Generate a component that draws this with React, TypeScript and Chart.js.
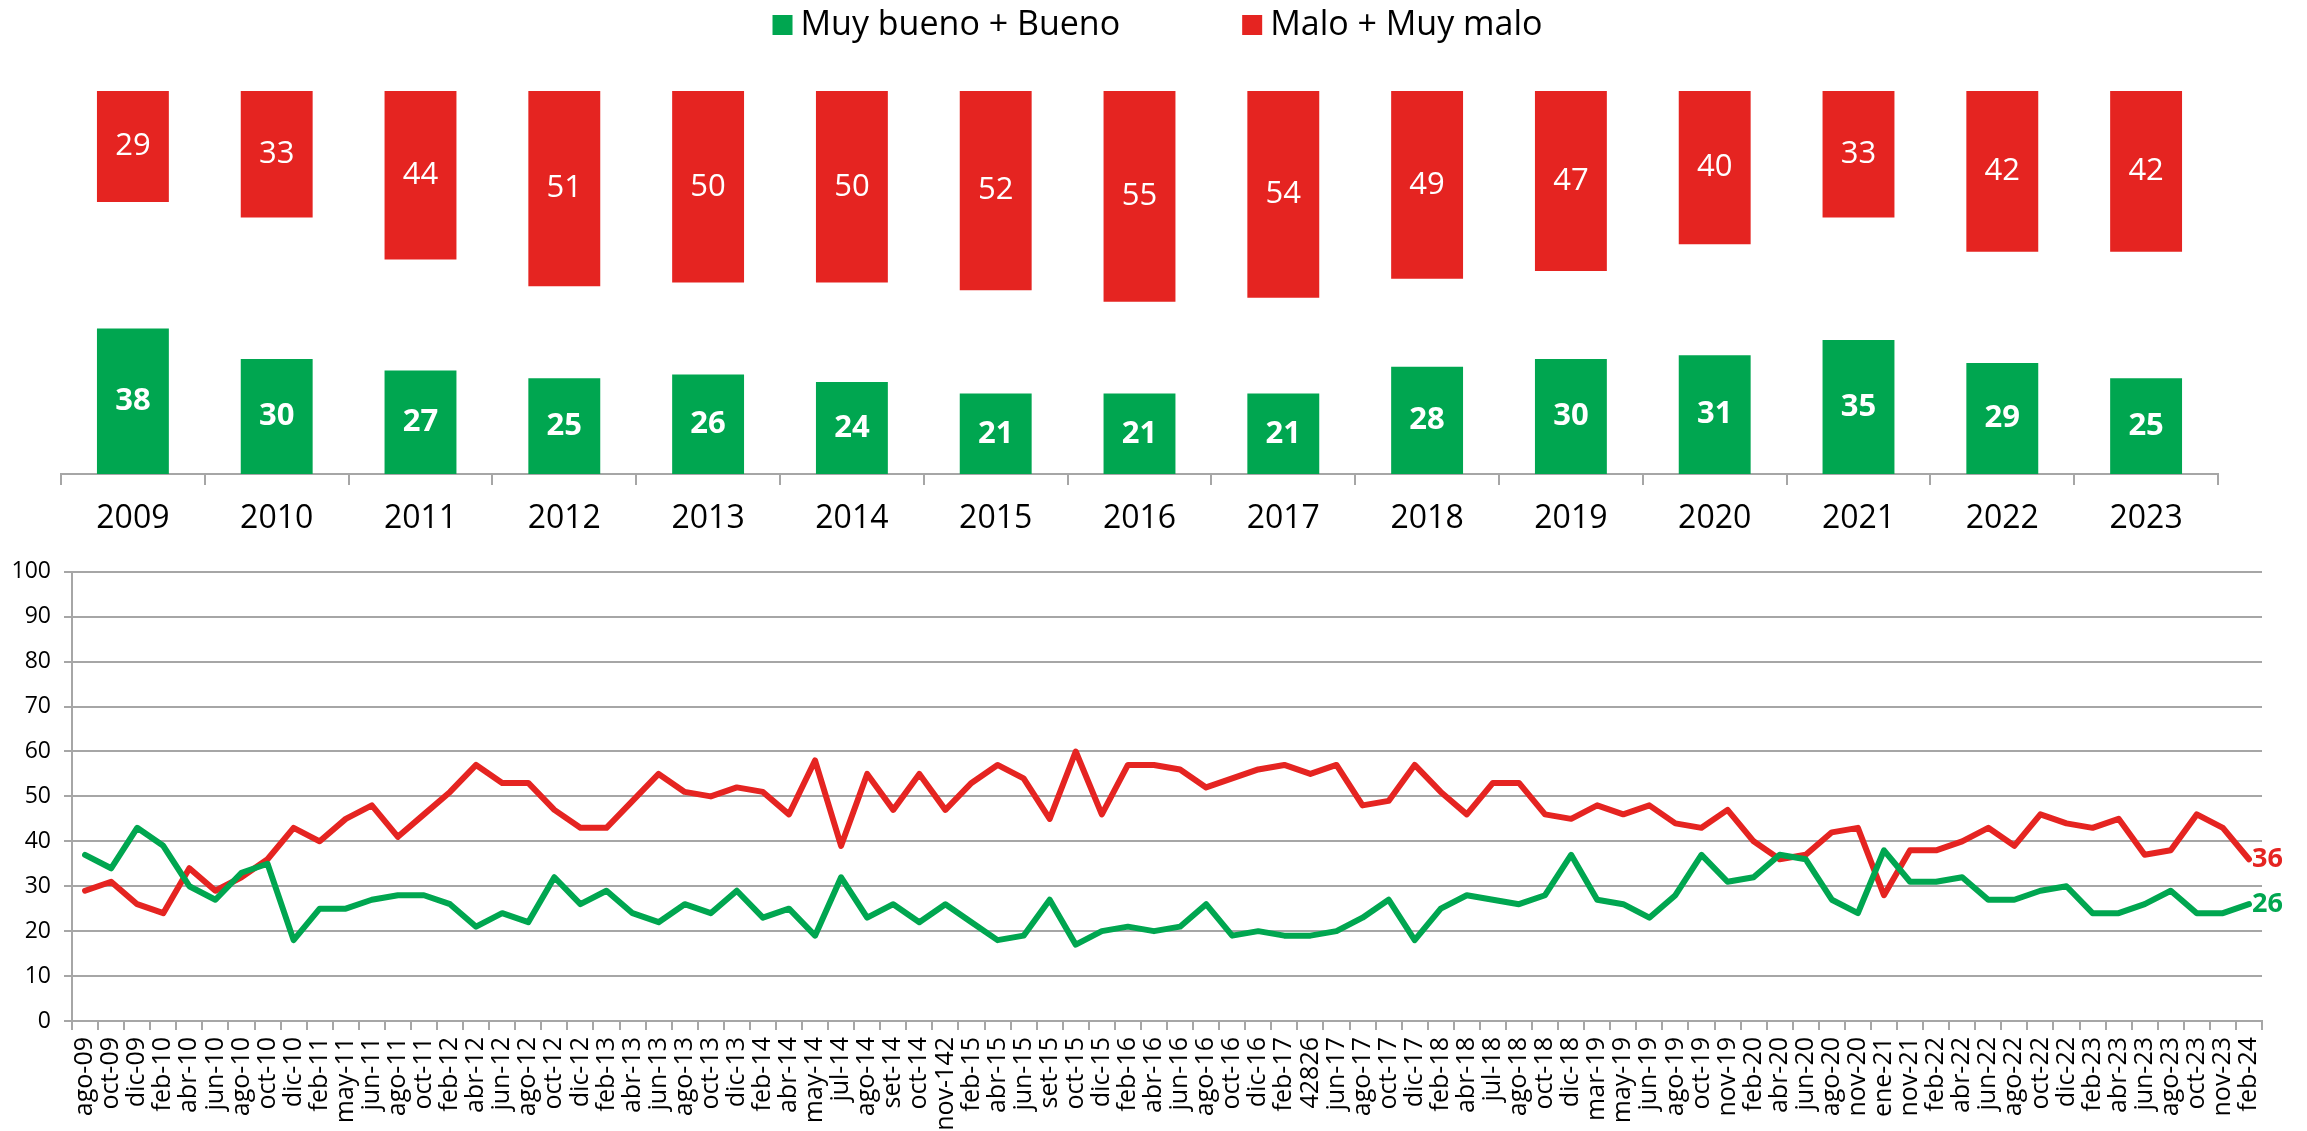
import React, { useEffect, useRef } from 'react';
import { Chart, registerables } from 'chart.js';

Chart.register(...registerables);

// ---------- Data ----------
const GOOD_LABEL = 'Muy bueno + Bueno';
const BAD_LABEL = 'Malo + Muy malo';

const YEARS = ['2009', '2010', '2011', '2012', '2013', '2014', '2015', '2016', '2017', '2018', '2019', '2020', '2021', '2022', '2023'];
const YEAR_GOOD = [38, 30, 27, 25, 26, 24, 21, 21, 21, 28, 30, 31, 35, 29, 25];
const YEAR_BAD = [29, 33, 44, 51, 50, 50, 52, 55, 54, 49, 47, 40, 33, 42, 42];

const MONTHS = [
  'ago-09', 'oct-09', 'dic-09', 'feb-10', 'abr-10', 'jun-10', 'ago-10', 'oct-10', 'dic-10', 'feb-11',
  'may-11', 'jun-11', 'ago-11', 'oct-11', 'feb-12', 'abr-12', 'jun-12', 'ago-12', 'oct-12', 'dic-12',
  'feb-13', 'abr-13', 'jun-13', 'ago-13', 'oct-13', 'dic-13', 'feb-14', 'abr-14', 'may-14', 'jul-14',
  'ago-14', 'set-14', 'oct-14', 'nov-142', 'feb-15', 'abr-15', 'jun-15', 'set-15', 'oct-15', 'dic-15',
  'feb-16', 'abr-16', 'jun-16', 'ago-16', 'oct-16', 'dic-16', 'feb-17', '42826', 'jun-17', 'ago-17',
  'oct-17', 'dic-17', 'feb-18', 'abr-18', 'jul-18', 'ago-18', 'oct-18', 'dic-18', 'mar-19', 'may-19',
  'jun-19', 'ago-19', 'oct-19', 'nov-19', 'feb-20', 'abr-20', 'jun-20', 'ago-20', 'nov-20', 'ene-21',
  'nov-21', 'feb-22', 'abr-22', 'jun-22', 'ago-22', 'oct-22', 'dic-22', 'feb-23', 'abr-23', 'jun-23',
  'ago-23', 'oct-23', 'nov-23', 'feb-24',
];
const MONTH_GOOD = [
  37, 34, 43, 39, 30, 27, 33, 35, 18, 25,
  25, 27, 28, 28, 26, 21, 24, 22, 32, 26,
  29, 24, 22, 26, 24, 29, 23, 25, 19, 32,
  23, 26, 22, 26, 22, 18, 19, 27, 17, 20,
  21, 20, 21, 26, 19, 20, 19, 19, 20, 23,
  27, 18, 25, 28, 27, 26, 28, 37, 27, 26,
  23, 28, 37, 31, 32, 37, 36, 27, 24, 38,
  31, 31, 32, 27, 27, 29, 30, 24, 24, 26,
  29, 24, 24, 26,
];
const MONTH_BAD = [
  29, 31, 26, 24, 34, 29, 32, 36, 43, 40,
  45, 48, 41, 46, 51, 57, 53, 53, 47, 43,
  43, 49, 55, 51, 50, 52, 51, 46, 58, 39,
  55, 47, 55, 47, 53, 57, 54, 45, 60, 46,
  57, 57, 56, 52, 54, 56, 57, 55, 57, 48,
  49, 57, 51, 46, 53, 53, 46, 45, 48, 46,
  48, 44, 43, 47, 40, 36, 37, 42, 43, 28,
  38, 38, 40, 43, 39, 46, 44, 43, 45, 37,
  38, 46, 43, 36,
];

// ---------- Styles ----------
const GREEN = '#00a650';
const RED = '#e52421';
const GRID = '#a6a6a6';
const FONT = "'Open Sans', 'Noto Sans', sans-serif";

const W = 2307;
const TOP_H = 545;
const BOT_H = 586;

const topLegendPlugin = {
  id: 'topLegend',
  afterDraw(chart: any) {
    const ctx = chart.ctx;
    ctx.save();
    ctx.font = `34px ${FONT}`;
    const items = chart.data.datasets.map((d: any) => ({ t: d.label, c: d.backgroundColor }));
    const box = 20;
    const gapText = 8;
    const gapItem = 122;
    const widths = items.map((it: any) => box + gapText + ctx.measureText(it.t).width);
    const total = widths.reduce((a: number, b: number) => a + b, 0) + gapItem * (items.length - 1);
    let x = chart.width / 2 - total / 2 + 4;
    const cy = 25;
    items.forEach((it: any, k: number) => {
      ctx.fillStyle = it.c;
      ctx.fillRect(x, cy - box / 2, box, box);
      ctx.fillStyle = '#000';
      ctx.textAlign = 'left';
      ctx.textBaseline = 'middle';
      ctx.fillText(it.t, x + box + gapText, cy);
      x += widths[k] + gapItem;
    });
    ctx.restore();
  },
};

const barLabelPlugin = {
  id: 'barLabels',
  afterDatasetsDraw(chart: any) {
    const ctx = chart.ctx;
    chart.data.datasets.forEach((ds: any, di: number) => {
      const meta = chart.getDatasetMeta(di);
      meta.data.forEach((el: any, i: number) => {
        const raw = ds.data[i];
        const v = Array.isArray(raw) ? raw[1] - raw[0] : raw;
        const { x, y, base } = el.getProps(['x', 'y', 'base'], true);
        ctx.save();
        ctx.fillStyle = '#ffffff';
        ctx.font = `${di === 0 ? 'bold ' : ''}31px ${FONT}`;
        ctx.textAlign = 'center';
        ctx.textBaseline = 'middle';
        ctx.fillText(String(v), x, (y + base) / 2);
        ctx.restore();
      });
    });
  },
};

const endLabelPlugin = {
  id: 'endLabels',
  afterDatasetsDraw(chart: any) {
    const ctx = chart.ctx;
    chart.data.datasets.forEach((ds: any, di: number) => {
      const meta = chart.getDatasetMeta(di);
      const last = meta.data[meta.data.length - 1];
      const v = ds.data[ds.data.length - 1];
      ctx.save();
      ctx.fillStyle = ds.borderColor;
      ctx.font = `bold 27px ${FONT}`;
      ctx.textAlign = 'left';
      ctx.textBaseline = 'middle';
      ctx.fillText(String(v), last.x + 3, last.y);
      ctx.restore();
    });
  },
};

function TopChart() {
  const ref = useRef<HTMLCanvasElement | null>(null);
  useEffect(() => {
    if (!ref.current) return;
    const chart = new Chart(ref.current, {
      type: 'bar',
      data: {
        labels: YEARS,
        datasets: [
          {
            label: GOOD_LABEL,
            data: YEAR_GOOD,
            backgroundColor: GREEN,
            grouped: false,
            barPercentage: 0.5,
            categoryPercentage: 1,
          } as any,
          {
            label: BAD_LABEL,
            data: YEAR_BAD.map((v) => [100 - v, 100]),
            backgroundColor: RED,
            grouped: false,
            barPercentage: 0.5,
            categoryPercentage: 1,
          } as any,
        ],
      },
      options: {
        responsive: false,
        animation: false,
        devicePixelRatio: 1,
        layout: { padding: { left: 61, right: 89, top: 91, bottom: 0 } },
        plugins: { legend: { display: false }, tooltip: { enabled: false } },
        scales: {
          x: {
            grid: { drawOnChartArea: false, drawTicks: true, tickLength: 11, color: GRID, lineWidth: 2, offset: true },
            border: { display: true, color: GRID, width: 2 },
            ticks: { color: '#000', font: { size: 32, family: FONT }, padding: 15 },
            afterFit: (s: any) => {
              s.height = 71;
            },
          },
          y: { display: false, min: 0, max: 100 },
        },
      } as any,
      plugins: [barLabelPlugin, topLegendPlugin],
    });
    return () => chart.destroy();
  }, []);
  return <canvas ref={ref} width={W} height={TOP_H} style={{ position: 'absolute', left: 0, top: 0, width: W, height: TOP_H }} />;
}

function BottomChart() {
  const ref = useRef<HTMLCanvasElement | null>(null);
  useEffect(() => {
    if (!ref.current) return;
    const chart = new Chart(ref.current, {
      type: 'line',
      data: {
        labels: MONTHS,
        datasets: [
          {
            label: GOOD_LABEL,
            data: MONTH_GOOD,
            borderColor: GREEN,
            backgroundColor: GREEN,
            borderWidth: 6,
            pointRadius: 0,
            tension: 0,
            borderJoinStyle: 'round',
            borderCapStyle: 'round',
          },
          {
            label: BAD_LABEL,
            data: MONTH_BAD,
            borderColor: RED,
            backgroundColor: RED,
            borderWidth: 6,
            pointRadius: 0,
            tension: 0,
            borderJoinStyle: 'round',
            borderCapStyle: 'round',
          },
        ],
      },
      options: {
        responsive: false,
        animation: false,
        devicePixelRatio: 1,
        layout: { padding: { left: 0, right: 45, top: 18, bottom: 0 } },
        plugins: { legend: { display: false }, tooltip: { enabled: false } },
        scales: {
          x: {
            offset: true,
            grid: { offset: true, drawOnChartArea: false, tickLength: 9, color: GRID, lineWidth: 2 },
            border: { display: true, color: GRID, width: 2 },
            ticks: {
              autoSkip: false,
              maxRotation: 90,
              minRotation: 90,
              color: '#000',
              font: { size: 25, family: FONT },
              padding: 7,
            },
            afterFit: (s: any) => {
              s.height = 110;
            },
          },
          y: {
            min: 0,
            max: 100,
            ticks: { stepSize: 10, color: '#000', font: { size: 23, family: FONT }, padding: 13 },
            grid: { color: GRID, lineWidth: 2, tickLength: 8 },
            border: { display: true, color: GRID, width: 2 },
            afterFit: (s: any) => {
              s.width = 72;
            },
          },
        },
      } as any,
      plugins: [endLabelPlugin],
    });
    return () => chart.destroy();
  }, []);
  return <canvas ref={ref} width={W} height={BOT_H} style={{ position: 'absolute', left: 0, top: TOP_H, width: W, height: BOT_H }} />;
}

export default function App() {
  return (
    <div style={{ position: 'absolute', left: 0, top: 0, width: W, height: 1131, background: '#fff', overflow: 'hidden' }}>
      <TopChart />
      <BottomChart />
    </div>
  );
}
